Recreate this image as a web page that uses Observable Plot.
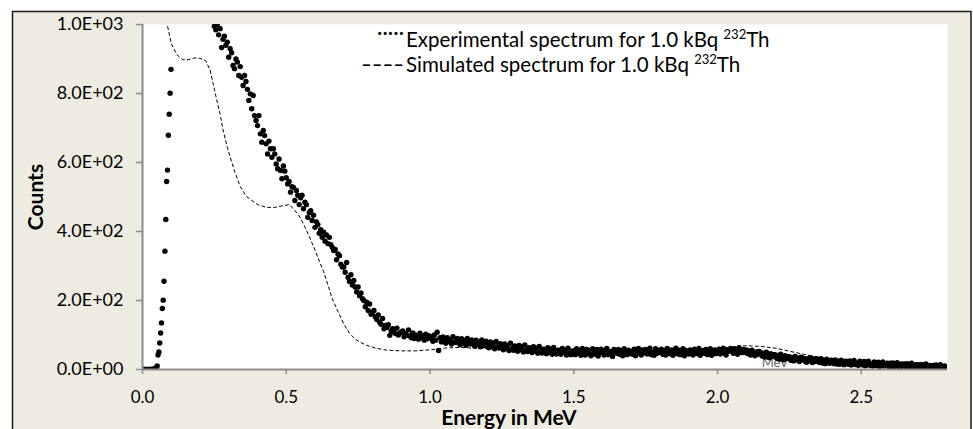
<!DOCTYPE html>
<html><head><meta charset="utf-8">
<script src="https://cdn.jsdelivr.net/npm/d3@7"></script>
<script src="https://cdn.jsdelivr.net/npm/@observablehq/plot@0.6"></script>
<style>
html,body{margin:0;padding:0;background:#fff;}
#chart svg{display:block}
</style></head><body><div id="chart"></div>
<script>
// ---------- data ----------
const xTicks = [0, 0.5, 1.0, 1.5, 2.0, 2.5];
const yTicks = [0, 200, 400, 600, 800, 1000];

// experimental spectrum, low-energy channels (start 0 MeV, 0.003 MeV per channel)
const expLowStart = 0, expLowStep = 0.003;
const expLowCounts = [0,0,0,0,0,0,0,0,0,0,0,1,0,1,2,3,5,
  10,42,51,77,106,135,177,201,256,343,435,545,578,679,740,801,870];

// experimental spectrum, 0.25 MeV onwards (0.005 MeV per point)
const expStart = 0.25, expStep = 0.005;
const expCounts = [
 995,985,1000,970,988,933,957,966,940,949,
 905,930,918,881,872,900,891,852,878,847,
 823,852,835,812,780,799,756,794,736,722,
 707,736,683,659,693,678,654,625,662,640,
 615,640,625,596,582,610,577,553,590,575,
 556,538,545,514,530,528,490,519,505,478,
 498,505,466,485,478,441,455,460,432,447,
 412,428,420,395,405,383,398,372,390,365,
 383,362,354,345,348,318,335,330,305,297,
 297,282,310,267,255,275,245,258,239,225,
 239,214,222,205,200,182,195,171,190,160,
 165,171,152,145,158,137,131,148,118,128,
 122,130,99,112,118,108,104,120,100,106,
 108,112,95,104,99,115,97,92,106,90,
 100,94,88,105,97,92,85,102,89,98,
 96,90,82,100,85,108,55,92,80,94,
 88,76,92,81,86,74,95,80,78,90,
 85,72,89,77,84,70,90,79,74,86,
 80,68,85,72,79,66,86,73,69,82,
 74,63,80,68,76,60,81,66,62,75,
 69,57,74,61,70,55,76,60,56,68,
 64,53,70,57,66,51,71,56,52,63,
 60,49,66,54,62,47,67,52,48,59,
 57,46,63,51,59,44,64,50,45,56,
 55,44,61,49,57,42,62,48,43,54,
 54,43,60,48,56,41,61,47,42,58,
 55,45,40,60,50,44,58,39,49,59,
 50,42,57,61,43,52,46,38,58,53,
 47,58,44,54,40,60,50,43,56,46,
 52,44,59,40,55,61,47,42,57,49,
 58,45,53,62,43,51,41,60,47,55,
 50,59,44,55,42,61,51,46,57,41,
 53,62,46,56,43,50,60,40,55,47,
 45,57,50,42,59,53,46,61,41,52,
 55,47,58,43,53,60,41,50,57,46,
 51,59,45,55,62,48,42,57,53,61,
 56,47,60,53,44,63,54,49,58,50,
 57,46,54,42,56,49,40,51,44,52,
 49,39,47,36,50,40,34,46,38,43,
 43,33,41,30,44,34,28,40,32,37,
 37,27,35,25,38,28,33,23,36,29,
 33,24,21,32,25,34,20,30,23,31,
 29,20,31,19,27,17,30,22,18,27,
 26,17,28,16,24,15,27,19,14,24,
 23,15,25,13,21,26,14,18,12,24,
 21,13,23,11,19,24,12,16,10,22,
 20,11,21,9,17,22,10,14,18,9,
 18,9,19,8,15,20,8,12,16,7,
 16,7,17,6,13,18,6,10,14,5,
 14,5,15,4,11,16,5,8,12,3,
 12,4,13,3,9,14,2,6,10,2,
 7];

// simulated spectrum
const simEnergy = [0.075,0.086,0.10,0.12,0.14,0.16,0.18,0.20,0.22,0.235,
 0.25,0.26,0.27,0.28,0.295,0.32,0.34,0.36,0.38,0.40,
 0.43,0.46,0.49,0.51,0.525,0.545,0.56,0.58,0.60,0.615,
 0.63,0.645,0.66,0.68,0.70,0.72,0.74,0.76,0.78,0.81,
 0.85,0.90,0.95,1.00,1.05,1.10,1.20,1.30,1.40,1.50,
 1.60,1.70,1.80,1.90,2.00,2.05,2.10,2.15,2.20,2.25,
 2.30,2.35,2.40,2.45,2.50,2.55,2.60,2.65,2.70,2.80];
const simCounts = [1150,1000,945,912,898,898,903,902,895,868,
 812,775,740,695,644,575,530,503,490,478,
 470,470,475,478,466,445,422,386,346,314,
 284,245,205,168,132,105,88,78,70,62,
 56,54,54,57,62,64,60,55,51,49,
 48,49,51,54,60,65,69,67,62,53,
 44,36,28,22,17,13,10,8,6,4];

const legendExp = "Experimental spectrum for 1.0 kBq ";
const legendSim = "Simulated spectrum for 1.0 kBq ";
const isotopeMass = "232", isotope = "Th";
const xTitle = "Energy in MeV", yTitle = "Counts";
const strayLabel = "MeV";

// ---------- build tables ----------
const expData = expLowCounts.map((c, i) => ({e: expLowStart + i * expLowStep, c}))
  .concat(expCounts.map((c, i) => ({e: expStart + i * expStep, c})));
const simData = simEnergy.map((e, i) => ({e, c: simCounts[i]}));

const fmtE = v => {
  const [m, ex] = v.toExponential(1).split("e");
  return m + "E" + ex[0] + ex.slice(1).padStart(2, "0");
};

const FONT = "Lato, 'Open Sans', sans-serif";

const svg = Plot.plot({
  width: 973, height: 429,
  marginLeft: 142, marginRight: 26, marginTop: 24, marginBottom: 60,
  style: {fontFamily: FONT, fontSize: "17px", color: "#000", background: "white"},
  x: {domain: [0, 2.8], ticks: xTicks, tickFormat: d => d.toFixed(1), tickSize: 5, tickPadding: 16, label: null},
  y: {domain: [0, 1000], ticks: yTicks, tickFormat: fmtE, tickSize: 6, tickPadding: 13, label: null},
  marks: [
    Plot.frame({fill: "white", stroke: "none"}),
    Plot.text([strayLabel], {x: () => 2.2, y: () => 20, text: d => d, fill: "#666", fontSize: 13, textAnchor: "middle"}),
    Plot.line(simData, {x: "e", y: "c", stroke: "#000", strokeWidth: 1, strokeDasharray: "3,3", clip: true}),
    Plot.dot(expData, {x: "e", y: "c", r: 2.7, fill: "#000", stroke: "none", clip: true}),
    Plot.ruleX([0], {stroke: "#8c8c8c", strokeWidth: 2}),
    Plot.ruleY([0], {stroke: "#8c8c8c", strokeWidth: 2})
  ]
});

const s = d3.select(svg);
// beige chart area with border
s.insert("rect", ":first-child")
  .attr("x", 12.5).attr("y", 11.5).attr("width", 958.5).attr("height", 430)
  .attr("fill", "#EEECE1").attr("stroke", "#1a1a1a").attr("stroke-width", 1.5);
s.insert("rect", ":first-child")
  .attr("x", 0).attr("y", 0).attr("width", 973).attr("height", 429).attr("fill", "#fff");

// gray tick marks, larger y tick labels
s.selectAll('g[aria-label="x-axis tick"], g[aria-label="y-axis tick"]').attr("stroke", "#8c8c8c").attr("stroke-width", 1.5);
s.selectAll('g[aria-label$="axis"] .tick line').attr("stroke", "#8c8c8c");
s.selectAll('g[aria-label="y-axis tick label"]').attr("font-size", 18);

// axis titles
s.append("text").attr("transform", "translate(43,197) rotate(-90)")
  .attr("text-anchor", "middle").attr("font-family", FONT).attr("font-weight", "bold")
  .attr("font-size", 21).attr("fill", "#000").text(yTitle);
s.append("text").attr("x", 509).attr("y", 425)
  .attr("text-anchor", "middle").attr("font-family", FONT).attr("font-weight", "bold")
  .attr("font-size", 21).attr("fill", "#000").text(xTitle);

// legend (text box)
const LFS = 20.5;
s.append("text").attr("x", 377).attr("y", 40).attr("text-anchor", "start").attr("font-family", FONT).attr("font-size", LFS)
  .attr("textLength", 27).attr("lengthAdjust", "spacing").text("·····");
s.append("text").attr("x", 361).attr("y", 72).attr("text-anchor", "start").attr("font-family", FONT).attr("font-size", LFS)
  .attr("textLength", 43).attr("lengthAdjust", "spacingAndGlyphs").text("----");
function legendLine(y, label) {
  const t = s.append("text").attr("x", 406).attr("y", y).attr("text-anchor", "start").attr("font-family", FONT)
    .attr("font-size", LFS).attr("fill", "#000");
  t.append("tspan").text(label);
  t.append("tspan").attr("font-size", 13).attr("dy", -8).text(isotopeMass);
  t.append("tspan").attr("dy", 8).text(isotope);
}
legendLine(47, legendExp);
legendLine(72, legendSim);

document.getElementById("chart").appendChild(svg);
</script></body></html>
